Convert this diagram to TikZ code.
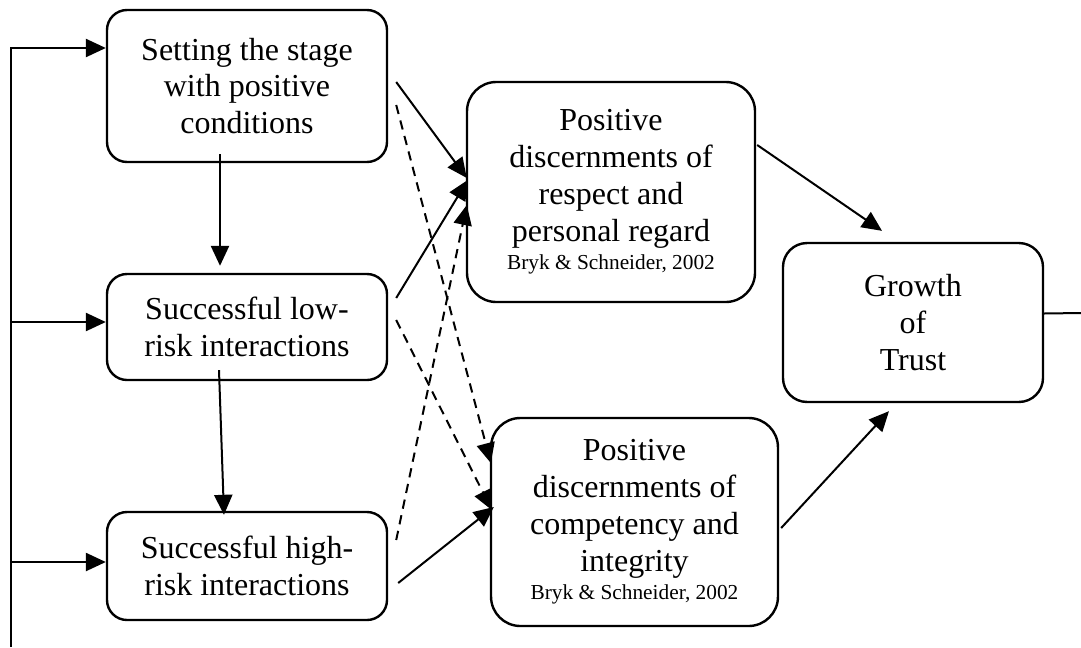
\documentclass[tikz,border=0pt]{standalone}
\usepackage{fontspec}
\setmainfont{Liberation Serif}
\usetikzlibrary{arrows.meta}

\begin{document}
\begin{tikzpicture}[x=0.375pt, y=-0.375pt,
        box/.style={draw, line width=0.9pt, rounded corners=7.5pt, align=center,
            inner sep=0pt, font=\fontsize{12}{13.8}\selectfont},
        link/.style={-{Triangle[length=7.5pt, width=6.8pt]}, line width=0.75pt},
        weak/.style={link, dash pattern=on 3.5pt off 2.5pt}]
    \useasboundingbox (0,0) rectangle (1081,647);

    \node[box, minimum width=105pt, minimum height=57pt] (stage) at (247,86)
        {Setting the stage\\with positive\\conditions};
    \node[box, minimum width=105pt, minimum height=39.75pt] (low) at (247,327)
        {Successful low-\\risk interactions};
    \node[box, minimum width=105pt, minimum height=40.5pt] (high) at (247,566)
        {Successful high-\\risk interactions};
    \node[box, rounded corners=11pt, minimum width=108pt, minimum height=82.5pt] (respect) at (611,192)
        {Positive\\discernments of\\respect and\\personal regard\\[-3pt]
        {\fontsize{8}{9.6}\selectfont Bryk \& Schneider, 2002}};
    \node[box, rounded corners=11pt, minimum width=107.6pt, minimum height=78pt] (integrity) at (634.5,522)
        {Positive\\discernments of\\competency and\\integrity\\[-3pt]
        {\fontsize{8}{9.6}\selectfont Bryk \& Schneider, 2002}};
    \node[box, rounded corners=9pt, minimum width=97.5pt, minimum height=59.6pt] (trust) at (913,322.5)
        {Growth\\of\\Trust};

    % loop back from the right edge to the left edge
    \coordinate (loopR) at (1081,313);
    \coordinate (loopL) at (11,647);
    \draw[line width=0.75pt] ([shift={(0,-9)}]trust.east) -- (loopR);
    \draw[link] (loopL) |- ([shift={(0,-38)}]stage.west);
    \draw[link] (loopL |- low.west) ++(0,-5) -- ([shift={(0,-5)}]low.west);
    \draw[link] (loopL |- high.west) ++(0,-4) -- ([shift={(0,-4)}]high.west);

    % down the left column
    \draw[link] ([shift={(-27,-9)}]stage.south) -- ([shift={(-27,-7)}]low.north);
    \draw[link] ([shift={(-28,-11)}]low.south) -- ([shift={(-23,4)}]high.north);

    % into the two discernments
    \draw[link] ([shift={(8,-4)}]stage.east) -- ([shift={(1,-14)}]respect.west);
    \draw[link] ([shift={(8,-29)}]low.east) -- ([shift={(2,-12)}]respect.west);
    \draw[weak] ([shift={(8,-26)}]high.east) -- ([shift={(1,13)}]respect.west);
    \draw[weak] ([shift={(8,19)}]stage.east) -- ([shift={(1,-59)}]integrity.west);
    \draw[weak] ([shift={(8,-7)}]low.east) -- ([shift={(2,-12)}]integrity.west);
    \draw[link] ([shift={(10,17)}]high.east) -- ([shift={(4,-15)}]integrity.west);

    % on to trust
    \draw[link] ([shift={(1,-47)}]respect.east) -- ([shift={(-31,-11)}]trust.north);
    \draw[link] ([shift={(2,6)}]integrity.east) -- ([shift={(-24,8)}]trust.south);
\end{tikzpicture}
\end{document}
